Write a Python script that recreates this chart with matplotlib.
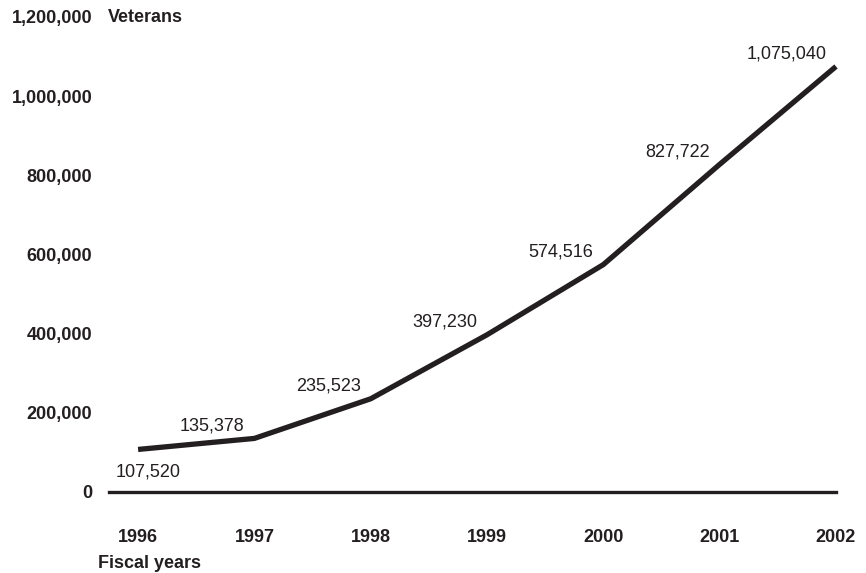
import matplotlib.pyplot as plt

plt.rcParams['font.family'] = ['Liberation Sans', 'DejaVu Sans']

years = [1996, 1997, 1998, 1999, 2000, 2001, 2002]
veterans = [107520, 135378, 235523, 397230, 574516, 827722, 1075040]
yticks = [0, 200000, 400000, 600000, 800000, 1000000, 1200000]

ink = '#231f20'

fig = plt.figure(figsize=(8.66, 5.73), dpi=100)
ax = fig.add_axes([109 / 866, 1 - 492 / 573, (836 - 109) / 866, 475 / 573])

ax.plot(years, veterans, color=ink, lw=3.8, solid_capstyle='butt',
        solid_joinstyle='miter', clip_on=False, zorder=3)
ax.axhline(0, color=ink, lw=2.4, clip_on=False)

# value labels: first one under the line, the rest up and to the left
for i, (yr, v) in enumerate(zip(years, veterans)):
    if i == 0:
        ax.annotate(f'{v:,}', (yr, v), xytext=(7, -10), textcoords='offset points',
                    ha='center', va='top', fontsize=13, color=ink)
    else:
        ax.annotate(f'{v:,}', (yr, v), xytext=(-7, 3), textcoords='offset points',
                    ha='right', va='bottom', fontsize=13, color=ink)

ax.set_xlim(1995.75, 2002)
ax.set_ylim(0, 1200000)
ax.set_xticks(years)
ax.set_xticklabels([str(y) for y in years], fontweight='bold', fontsize=13, color=ink)
ax.set_yticks(yticks)
ax.set_yticklabels([f'{t:,}' for t in yticks], fontweight='bold', fontsize=13, color=ink)
ax.tick_params(axis='x', length=0, pad=27)
ax.tick_params(axis='y', length=0, pad=12)
for s in ax.spines.values():
    s.set_visible(False)

fig.text(108 / 866, 1 - 17 / 573, 'Veterans', fontweight='bold', fontsize=13,
         color=ink, ha='left', va='center')
fig.text(98 / 866, 1 - 563 / 573, 'Fiscal years', fontweight='bold', fontsize=13,
         color=ink, ha='left', va='center')

fig.savefig('out.png', dpi=100)
